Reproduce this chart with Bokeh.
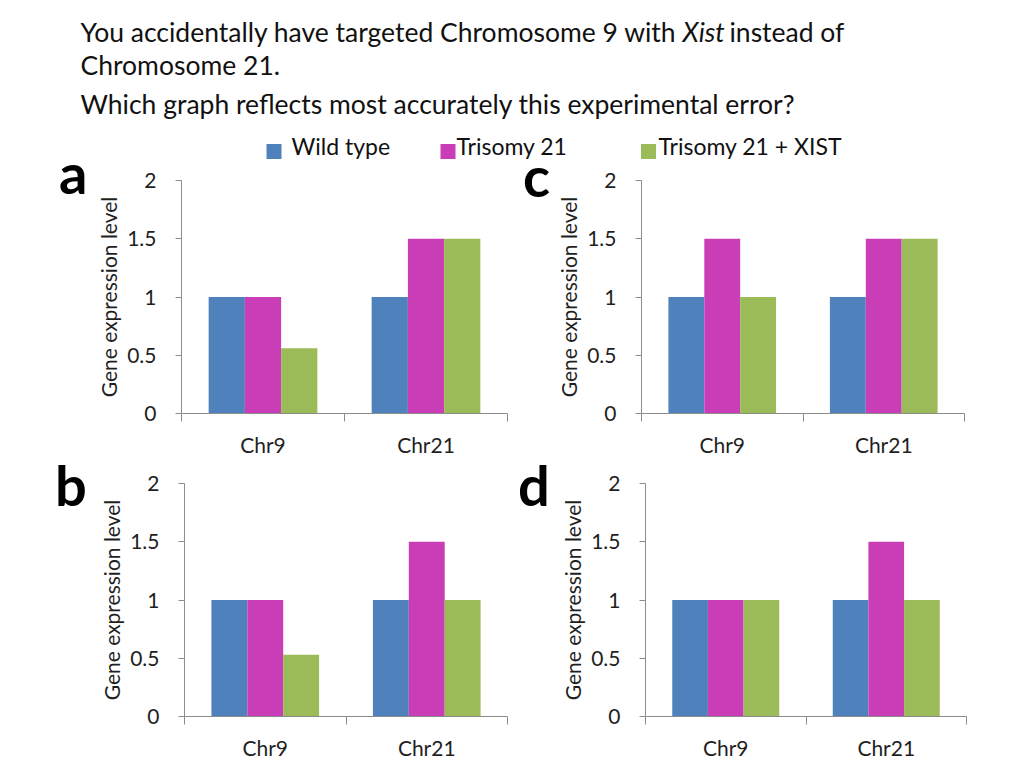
from bokeh.plotting import figure
from bokeh.layouts import column, row
from bokeh.models import Range1d, FixedTicker, NumeralTickFormatter, CustomJSTickFormatter, Div
from bokeh.core.properties import value
from bokeh.embed import file_html
from bokeh.resources import INLINE

# ---------------- data ----------------
categories = ["Chr9", "Chr21"]
series = ["Wild type", "Trisomy 21", "Trisomy 21 + XIST"]
colors = ["#4F81BD", "#C93EB7", "#9BBB59"]

a_wild = [1.0, 1.0]
a_tri = [1.0, 1.5]
a_xist = [0.56, 1.5]

b_wild = [1.0, 1.0]
b_tri = [1.0, 1.5]
b_xist = [0.53, 1.0]

c_wild = [1.0, 1.0]
c_tri = [1.5, 1.5]
c_xist = [1.0, 1.5]

d_wild = [1.0, 1.0]
d_tri = [1.0, 1.5]
d_xist = [1.0, 1.0]

y_ticks = [0, 0.5, 1, 1.5, 2]
y_label = "Gene expression level"

FONT = "Lato"
AXIS_GRAY = "#8C8C8C"
TEXT_DARK = "#1F1F1F"


def blank(width, height):
    p = figure(width=width, height=height, x_range=Range1d(0, width), y_range=Range1d(height, 0),
               x_axis_location=None, y_axis_location=None, output_backend="svg",
               toolbar_location=None, min_border=0, title=None)
    p.grid.visible = False
    p.outline_line_color = None
    return p


# ---------------- header ----------------
HEADER_H = 162
header = blank(1000, HEADER_H)

title_size = "26.5px"
tkw = dict(text_font=value(FONT), text_font_size=title_size, text_color="#111111", text_baseline="alphabetic")
header.text(x=[80], y=[31], text=["You accidentally have targeted Chromosome 9 with"], **tkw)
header.text(x=[682], y=[31], text=["Xist"], text_font_style="italic", **tkw)
header.text(x=[729], y=[31], text=["instead of"], **tkw)
header.text(x=[80], y=[64], text=["Chromosome 21."], **tkw)
header.text(x=[80], y=[103], text=["Which graph reflects most accurately this experimental error?"], **tkw)

legend_sq_x = [273.5, 447.5, 648]
legend_sq_y = [151, 151, 151]
legend_tx_x = [291, 456, 658]
header.scatter(x=legend_sq_x, y=legend_sq_y, marker="square", size=15, color=colors, line_color=None)
header.text(x=legend_tx_x, y=[145, 145, 145], text=series, text_font=value(FONT),
            text_font_size="23px", text_color="#111111", text_baseline="alphabetic")

# ---------------- charts ----------------
BAR_W = 1.0 / 4.5  # Excel gap width 150%


def make_letter(letter, width, height, left, top):
    html = ("<span style=\"position:relative; display:inline-block; left:%dpx; top:%dpx; "
            "font-family:Lato; font-size:56px; font-weight:bold; line-height:1; color:#000;\">%s</span>"
            % (left, top, letter))
    return Div(text=html, width=width, height=height,
               styles={"margin": "0", "padding": "0", "overflow": "visible", "line-height": "1"})


def make_chart(wild, tri, xist, left_b, frame_w, right_b, top_b, frame_h, bottom_b):
    p = figure(width=left_b + frame_w + right_b, height=top_b + frame_h + bottom_b,
               x_range=Range1d(0, len(categories)), y_range=Range1d(0, 2),
               output_backend="svg", toolbar_location=None, title=None,
               min_border_left=left_b, min_border_right=right_b,
               min_border_top=top_b, min_border_bottom=bottom_b)
    p.grid.visible = False
    p.outline_line_color = None

    centers = [i + 0.5 for i in range(len(categories))]
    for k, vals in enumerate([wild, tri, xist]):
        xs = [c + (k - 1) * BAR_W for c in centers]
        p.vbar(x=xs, top=vals, bottom=0, width=BAR_W, color=colors[k], line_color=None)

    # y axis
    ya = p.yaxis[0]
    ya.ticker = FixedTicker(ticks=y_ticks, minor_ticks=[])
    ya.formatter = NumeralTickFormatter(format="0.[0]")
    ya.axis_line_color = AXIS_GRAY
    ya.major_tick_line_color = AXIS_GRAY
    ya.major_tick_out = 6
    ya.major_tick_in = 0
    ya.major_label_standoff = 19
    ya.major_label_text_font = FONT
    ya.major_label_text_font_size = "21px"
    ya.major_label_text_color = TEXT_DARK
    ya.axis_label = y_label
    ya.axis_label_text_font = FONT
    ya.axis_label_text_font_size = "21px"
    ya.axis_label_text_font_style = "normal"
    ya.axis_label_text_color = TEXT_DARK
    ya.axis_label_standoff = 3

    # x axis
    xa = p.xaxis[0]
    xa.ticker = FixedTicker(ticks=centers, minor_ticks=list(range(len(categories) + 1)))
    xa.formatter = CustomJSTickFormatter(args=dict(labels=categories),
                                         code="return labels[Math.floor(tick)];")
    xa.axis_line_color = AXIS_GRAY
    xa.major_tick_line_color = None
    xa.major_tick_out = 0
    xa.major_tick_in = 0
    xa.minor_tick_line_color = AXIS_GRAY
    xa.minor_tick_out = 8
    xa.minor_tick_in = 0
    xa.major_label_standoff = 10
    xa.major_label_text_font = FONT
    xa.major_label_text_font_size = "21px"
    xa.major_label_text_color = TEXT_DARK
    return p


R1_TOP, R1_BOT = 18, 50
R2_TOP, R2_BOT = 20, 50
FRAME_H = 233
ROW1_H = R1_TOP + FRAME_H + R1_BOT
ROW2_H = R2_TOP + FRAME_H + R2_BOT

la = make_letter("a", 88, ROW1_H, 59, -17)
pa = make_chart(a_wild, a_tri, a_xist, 93, 326, 8, R1_TOP, FRAME_H, R1_BOT)
lc = make_letter("c", 35, ROW1_H, 8, -14)
pc = make_chart(c_wild, c_tri, c_xist, 91, 323, 12, R1_TOP, FRAME_H, R1_BOT)

lb = make_letter("b", 88, ROW2_H, 55, -6)
pb = make_chart(b_wild, b_tri, b_xist, 96, 323, 8, R2_TOP, FRAME_H, R2_BOT)
ld = make_letter("d", 35, ROW2_H, 3, -6)
pd_ = make_chart(d_wild, d_tri, d_xist, 95, 321, 12, R2_TOP, FRAME_H, R2_BOT)

layout = column(header, row(la, pa, lc, pc), row(lb, pb, ld, pd_))

open("out.html", "w").write(file_html(layout, INLINE))
